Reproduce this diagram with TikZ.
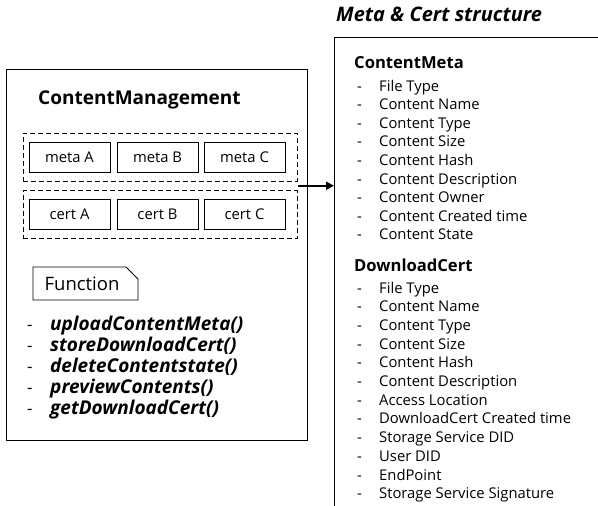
\documentclass[tikz,border=0pt]{standalone}
\usepackage{fontspec}
\setmainfont{Open Sans}
\usetikzlibrary{arrows.meta,calc}
\begin{document}
\begin{tikzpicture}[x=1pt,y=-1pt,
  frame/.style={draw, line width=0.8pt},
  cell/.style={draw, line width=0.8pt, minimum width=81pt, minimum height=30pt, inner sep=0pt, font=\fontsize{14.8}{14.8}\selectfont},
  group/.style={draw, line width=1pt, dash pattern=on 5pt off 3pt, minimum width=274pt, minimum height=48pt, inner sep=0pt},
  fitem/.style={anchor=base west, inner sep=0pt, font=\fontsize{19}{19}\selectfont\bfseries\itshape},
  fdash/.style={anchor=base west, inner sep=0pt, font=\fontsize{17}{17}\selectfont},
  ditem/.style={anchor=base west, inner sep=0pt, font=\fontsize{14.8}{14.8}\selectfont},
  head/.style={anchor=base west, inner sep=0pt, font=\fontsize{16.6}{16.6}\selectfont\bfseries}
]
\useasboundingbox (0,0) rectangle (598,506);

% left container
\node[frame, minimum width=301pt, minimum height=371pt, anchor=north west, inner sep=0pt] (cm) at (6,69) {};
\node[anchor=base west, inner sep=0pt, font=\fontsize{19}{19}\selectfont\bfseries] (cmt) at (38,104) {ContentManagement};

\node[group] (gmeta) at (160,157) {};
\node[group] (gcert) at (160,214.5) {};
\node[cell] (ma) at (69.5,157) {meta A};
\node[cell] (mb) at (157.5,157) {meta B};
\node[cell] (mc) at (244.5,157) {meta C};
\node[cell] (ca) at (69.5,214.5) {cert A};
\node[cell] (cb) at (157.5,214.5) {cert B};
\node[cell] (cc) at (244.5,214.5) {cert C};

% function tab
\draw[line width=0.8pt] (33,267) -- (126,267) -- (138,279) -- (138,300) -- (33,300) -- cycle;
\node[font=\fontsize{18.5}{18.5}\selectfont] (fn) at (82,284) {Function};

\foreach \t/\y in {uploadContentMeta()/330, storeDownloadCert()/351, deleteContentstate()/372, previewContents()/393, getDownloadCert()/414}{
  \node[fdash] at (27,\y) {-};
  \node[fitem] at (50,\y) {\t};
}

% right structure
\node[anchor=base west, inner sep=0pt, font=\fontsize{20}{20}\selectfont\bfseries\itshape] (rt) at (336,21) {Meta \& Cert structure};
\coordinate (rtl) at (334,37);
\coordinate (rtr) at (598,37);
\coordinate (rbl) at (334,506);
\draw[line width=0.8pt] (rtr) -- (rtl) -- (rbl);

\node[head] (h1) at (354,68) {ContentMeta};
\foreach \t [count=\i] in {File Type, Content Name, Content Type, Content Size, Content Hash, Content Description, Content Owner, Content Created time, Content State}{
  \node[ditem] at (357,{86+5+(\i-1)*18.6}) {-};
  \node[ditem] at (379,{86+5+(\i-1)*18.6}) {\t};
}
\node[head] (h2) at (354,271) {DownloadCert};
\foreach \t [count=\i] in {File Type, Content Name, Content Type, Content Size, Content Hash, Content Description, Access Location, DownloadCert Created time, Storage Service DID, User DID, EndPoint, Storage Service Signature}{
  \node[ditem] at (357,{288+5+(\i-1)*18.7}) {-};
  \node[ditem] at (379,{288+5+(\i-1)*18.7}) {\t};
}

% arrow
\coordinate (aS) at ($(gmeta.south east)!0.5!(gcert.north east)$);
\draw[line width=2.2pt, -{Triangle[length=8pt,width=8pt]}] (aS) -- (aS -| rtl);
\end{tikzpicture}
\end{document}
